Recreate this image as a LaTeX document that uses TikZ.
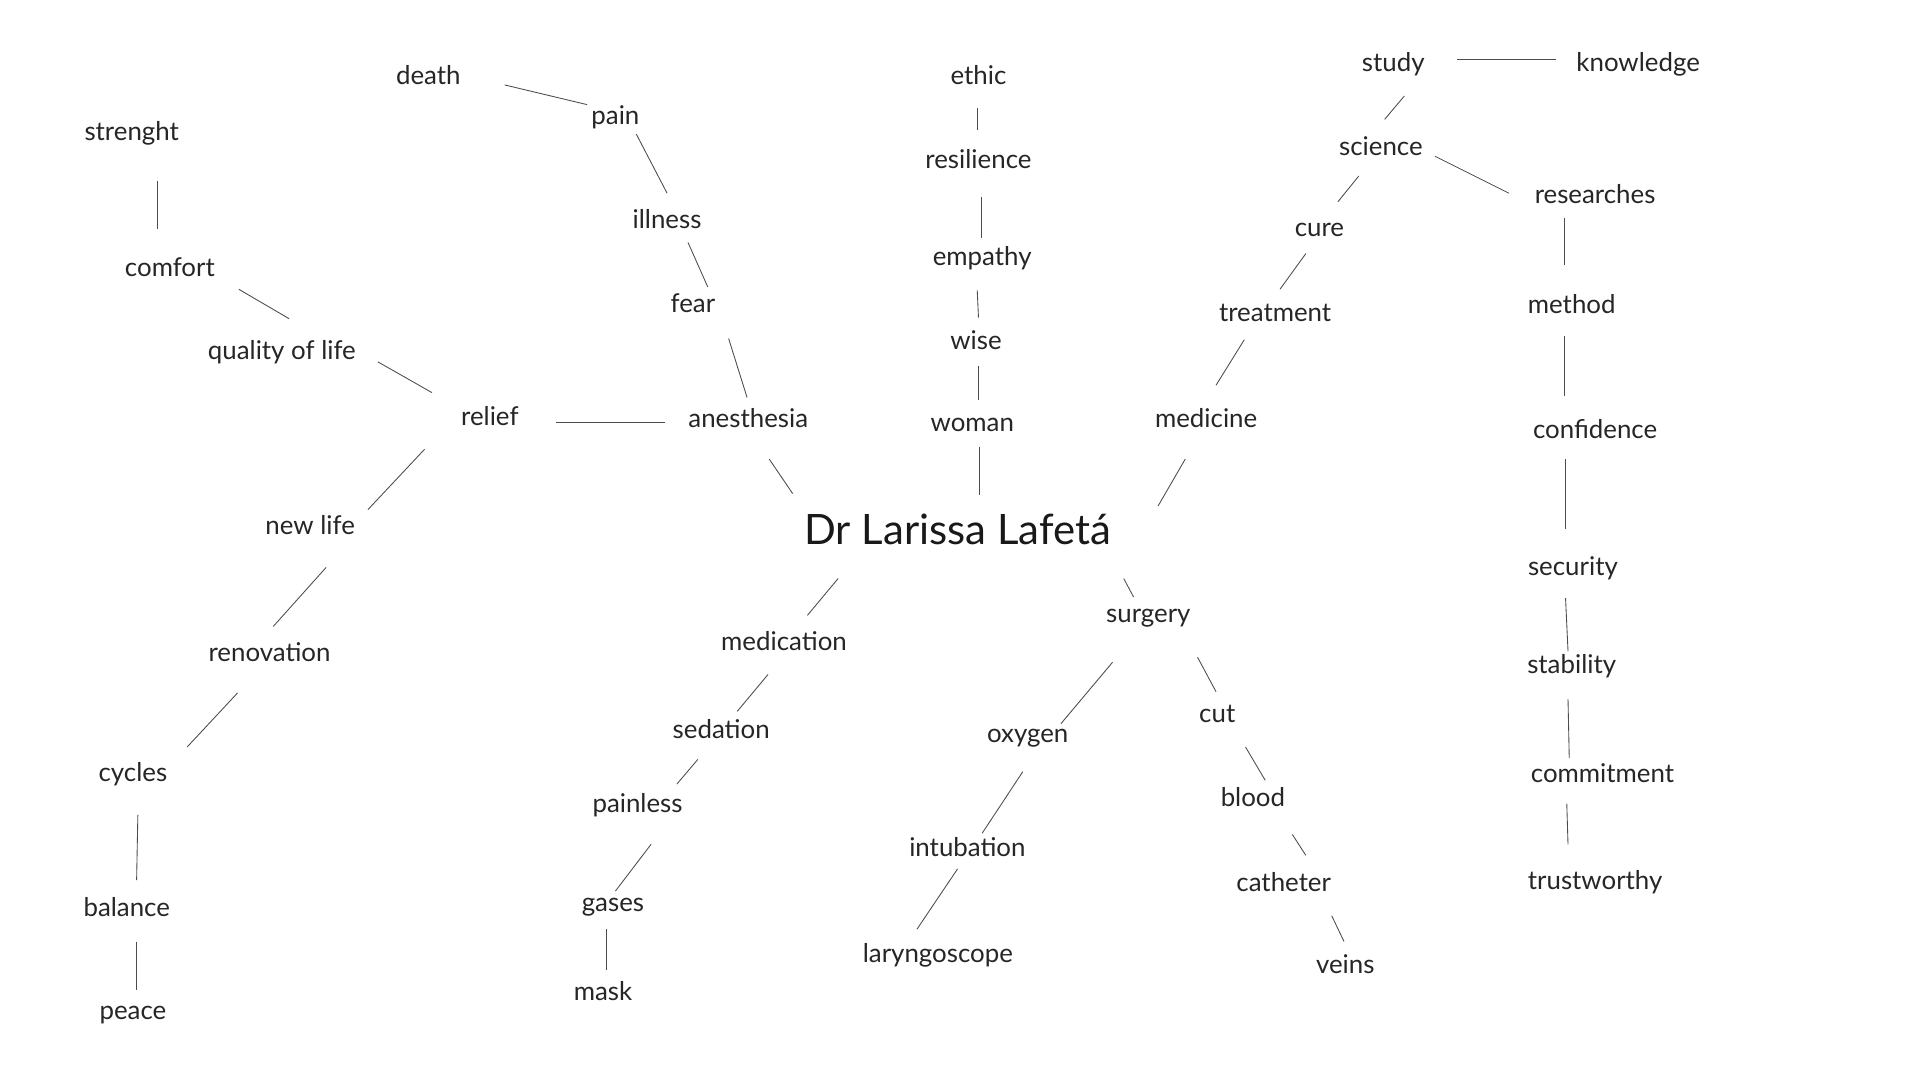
\documentclass[tikz,border=0pt]{standalone}
\usepackage{fontspec}
\setmainfont{Lato}
\begin{document}
\begin{tikzpicture}[x=1pt,y=-1pt,
 w/.style={font=\fontsize{21}{24}\selectfont\color{black!85}, inner sep=0pt},
 c/.style={font=\fontsize{34}{38}\selectfont\color{black!90}, inner sep=0pt},
 ln/.style={draw=black!70, line width=0.7pt}]
\useasboundingbox[fill=white] (0,0) rectangle (1560,878);
\foreach \n/\x/\y/\t in {death/348/61/death, pain/500/95/pain, illness/542/178/illness, fear/563/246/fear, anes/608/340/anesthesia, relief/398/338/relief, qol/229/286/quality of life, comfort/138/217/comfort, str/107/108/strenght, newlife/252/427/new life, renov/219/530/renovation, cycles/108/629/cycles, balance/103/737/balance, peace/108/825/peace, ethic/795/61/ethic, resil/795/129/resilience, emp/798/210/empathy, wise/793/276/wise, woman/790/345/woman, med/980/340/medicine, treat/1036/254/treatment, cure/1072/187/cure, sci/1122/119/science, study/1132/52/study, know/1331/52/knowledge, res/1296/158/researches, meth/1277/247/method, conf/1296/349/confidence, sec/1278/462/security, stab/1277/541/stability, comm/1302/628/commitment, trust/1296/717/trustworthy, medic/637/521/medication, sed/586/592/sedation, painl/518/654/painless, gases/498/737/gases, mask/490/805/mask, surg/933/502/surgery, oxy/835/600/oxygen, intub/786/688/intubation, laryn/762/776/laryngoscope, cut/989/580/cut, blood/1018/648/blood, cath/1043/717/catheter, veins/1093/783/veins}
  \node[w] (\n) at (\x,\y) {\t};
\node[c] (center) at (778,430) {Dr Larissa Lafetá};
\foreach \a/\b/\c/\d in {410/69/477/85, 517/109/542/157, 559/197/575/233, 592/275/607/323, 452/343/540/343, 307/294/351/319, 194/235/235/259, 128/147/128/186, 345/365/299/414, 265/461/222/509, 193/563/152/607, 112/662/111/715, 111/765/111/804, 625/373/644/401, 794/88/794/106, 797/160/797/193, 794/236/795/258, 795/297/795/325, 796/363/796/402, 963/373/941/411, 1011/276/988/313, 1061/206/1040/235, 1104/143/1087/164, 1141/78/1125/97, 1184/48/1264/48, 1166/127/1226/157, 1271/177/1271/215, 1271/273/1271/322, 1272/373/1272/430, 1272/486/1274/529, 1274/568/1275/616, 1273/653/1274/686, 681/470/656/500, 624/548/599/578, 567/617/550/637, 529/686/500/724, 493/755/493/788, 913/470/921/485, 904/538/862/588, 973/534/988/562, 1012/607/1028/634, 1050/678/1061/695, 1082/744/1092/765, 831/627/798/677, 778/706/745/755}
  \draw[ln] (\a,\b) -- (\c,\d);
\end{tikzpicture}
\end{document}
